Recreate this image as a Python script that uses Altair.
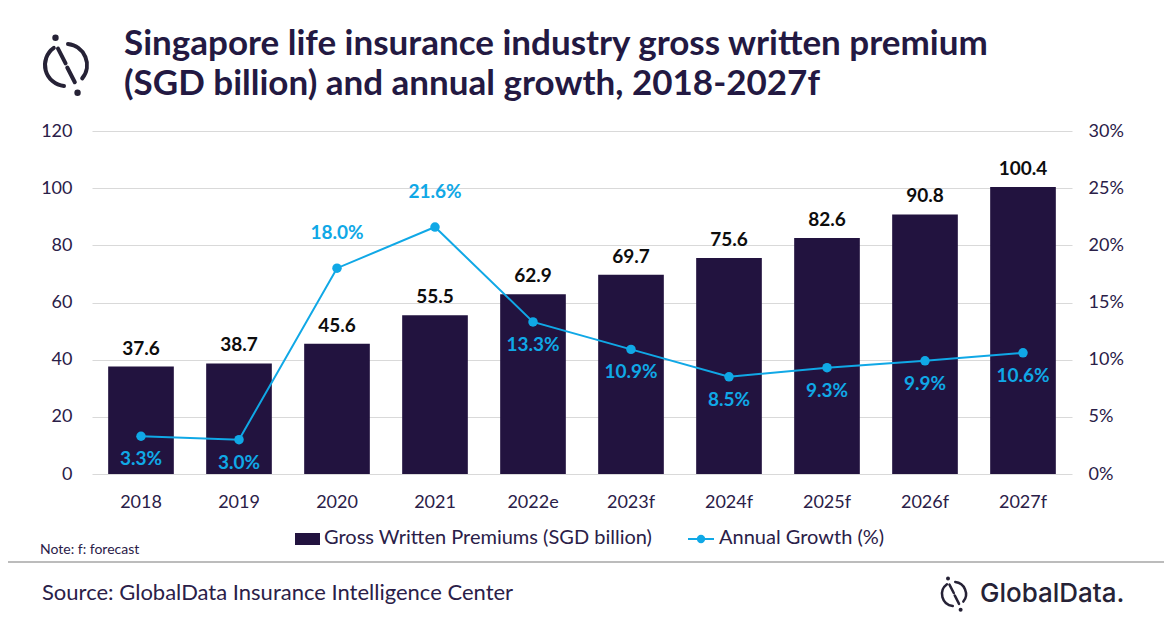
import math
import pandas as pd
import altair as alt

years = ["2018", "2019", "2020", "2021", "2022e", "2023f", "2024f", "2025f", "2026f", "2027f"]
gwp = [37.6, 38.7, 45.6, 55.5, 62.9, 69.7, 75.6, 82.6, 90.8, 100.4]
growth = [3.3, 3.0, 18.0, 21.6, 13.3, 10.9, 8.5, 9.3, 9.9, 10.6]
growth_above = ["2020", "2021"]  # labels drawn above the point

title_lines = ["Singapore life insurance industry gross written premium",
               "(SGD billion) and annual growth, 2018-2027f"]
legend_labels = ["Gross Written Premiums (SGD billion)", "Annual Growth (%)"]
note = "Note: f: forecast"
source = "Source: GlobalData Insurance Intelligence Center"
brand = "GlobalData."

PURPLE = "#22133f"
TEXT = "#2a2048"
CYAN = "#10a8e6"
FONT = "Lato"

df = pd.DataFrame({"year": years, "gwp": gwp, "growth": [g / 100 for g in growth]})
df["above"] = df["year"].isin(growth_above)
one = pd.DataFrame({"k": [0]})

x_enc = alt.X("year:N", sort=years, title=None,
              scale=alt.Scale(paddingInner=0.33, paddingOuter=0.165),
              axis=alt.Axis(labelFontSize=18, labelColor=TEXT, labelFont=FONT, grid=False,
                            labelPadding=19, ticks=False, domain=False, labelAngle=0))

y_left = alt.Y("gwp:Q", title=None,
               scale=alt.Scale(domain=[0, 120]),
               axis=alt.Axis(values=[0, 20, 40, 60, 80, 100, 120], labelFontSize=18,
                             labelColor=TEXT, labelFont=FONT, labelPadding=20,
                             ticks=False, domain=False, gridColor="#d9d9d9"))

y_right = alt.Y("growth:Q", title=None,
                scale=alt.Scale(domain=[0, 0.30]),
                axis=alt.Axis(orient="right", values=[0, 0.05, 0.10, 0.15, 0.20, 0.25, 0.30],
                              format=".0%", labelFontSize=18, labelColor=TEXT, labelFont=FONT,
                              labelPadding=16, ticks=False, domain=False, grid=False))

base = alt.Chart(df)

bars = base.mark_bar(color=PURPLE).encode(x=x_enc, y=y_left)
bar_text = base.mark_text(dy=-18, baseline="middle", fontSize=19, fontWeight="bold",
                          font=FONT, color="#0d0d0d").encode(
    x=x_enc, y=y_left, text=alt.Text("gwp:Q", format=".1f"))
bar_part = alt.layer(bars, bar_text)

line = base.mark_line(color=CYAN, strokeWidth=2).encode(x=x_enc, y=y_right)
pts = base.mark_circle(color=CYAN, size=90, opacity=1).encode(x=x_enc, y=y_right)
g_above = base.transform_filter("datum.above").mark_text(
    dy=-35, baseline="middle", fontSize=19, fontWeight="bold", font=FONT, color=CYAN).encode(
    x=x_enc, y=y_right, text=alt.Text("growth:Q", format=".1%"))
g_below = base.transform_filter("!datum.above").mark_text(
    dy=23, baseline="middle", fontSize=19, fontWeight="bold", font=FONT, color=CYAN).encode(
    x=x_enc, y=y_right, text=alt.Text("growth:Q", format=".1%"))
line_part = alt.layer(line, pts, g_above, g_below)


def label(txt, x, y, size, color=TEXT, weight="normal", font=FONT):
    return alt.Chart(one).mark_text(text=txt, align="left", baseline="alphabetic",
                                    fontSize=size, fontWeight=weight, font=font,
                                    color=color).encode(x=alt.value(x), y=alt.value(y))


def logo(cx, cy, r, w):
    # circle broken in two places, a split slash and two dots
    parts = []
    for t1, t2 in [(0.0, 135.0), (180.0, 330.0)]:
        parts.append(alt.Chart(one).mark_arc(
            color="#262236", radius=r + w / 2, radius2=r - w / 2,
            theta=math.radians(t1), theta2=math.radians(t2), cornerRadius=w / 2
        ).encode(x=alt.value(cx), y=alt.value(cy)))
    for (a, b, c, d) in [(-0.38, -0.78, -0.02, -0.08), (0.06, 0.12, 0.42, 0.82)]:
        parts.append(alt.Chart(one).mark_rule(
            color="#262236", strokeWidth=w, strokeCap="round"
        ).encode(x=alt.value(cx + a * r), y=alt.value(cy + b * r),
                 x2=alt.value(cx + c * r), y2=alt.value(cy + d * r)))
    for (a, b) in [(-0.5, -1.3), (0.55, 1.32)]:
        parts.append(alt.Chart(one).mark_circle(
            color="#262236", size=(w * 1.6) ** 2, opacity=1
        ).encode(x=alt.value(cx + a * r), y=alt.value(cy + b * r)))
    return parts


# plot origin sits at page (92, 131)
decor = [
    label(title_lines[0], 32, -76, 35, color="#231942", weight="bold"),
    label(title_lines[1], 32, -36, 35, color="#231942", weight="bold"),
    alt.Chart(one).mark_rect(color=PURPLE).encode(
        x=alt.value(203), x2=alt.value(228), y=alt.value(402), y2=alt.value(414)),
    label(legend_labels[0], 232, 413, 20),
    alt.Chart(one).mark_rule(color=CYAN, strokeWidth=2).encode(
        x=alt.value(596), x2=alt.value(622), y=alt.value(408)),
    alt.Chart(one).mark_circle(color=CYAN, size=70, opacity=1).encode(
        x=alt.value(609), y=alt.value(408)),
    label(legend_labels[1], 627, 413, 20),
    label(note, -52, 423, 14),
    alt.Chart(one).mark_rule(color="#a6a6a6", strokeWidth=1.5).encode(
        x=alt.value(-92), x2=alt.value(1080), y=alt.value(431)),
    label(source, -50, 469, 22),
    label(brand, 888, 471, 26, color="#262236", weight=500, font="Inter"),
] + logo(-26, -66, 21, 4) + logo(862, 463, 12, 2.5)

chart = alt.layer(bar_part, line_part, *decor).resolve_scale(y="independent").properties(
    width=980, height=343,
    background="white",
    autosize=alt.AutoSizeParams(type="none"),
    padding={"left": 84, "top": 123, "right": 92, "bottom": 146},
).configure_view(
    stroke="transparent", strokeWidth=0
).configure_axis(
    domain=False, ticks=False
).configure_axisX(
    grid=False
)

chart.save("out.html", embed_options={"renderer": "svg", "actions": False})
